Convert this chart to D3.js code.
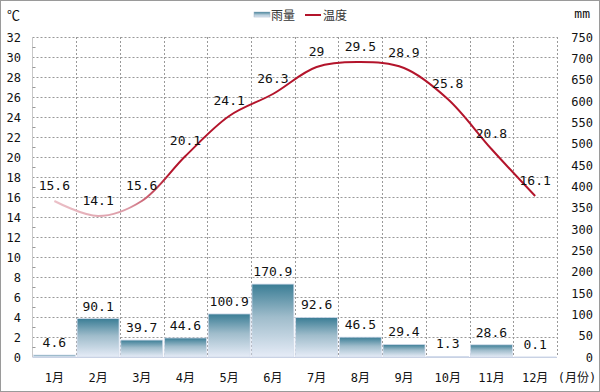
<!DOCTYPE html>
<html>
<head>
<meta charset="utf-8">
<title>雨量 温度</title>
<style>
body { margin: 0; background: #fff; }
text { font-family: "DejaVu Sans Mono", "Noto Sans CJK SC", monospace; fill: #111; }
.grid line { stroke: #999; stroke-dasharray: 2,2; stroke-width: 1; }
.lbl { font-size: 13px; text-anchor: middle; }
.tick-l { font-size: 12px; text-anchor: end; }
.tick-r { font-size: 12px; text-anchor: end; }
.legend text { font-family: "Noto Sans CJK SC", sans-serif; font-size: 12px; fill: #333; }
</style>
</head>
<body>
<svg id="chart" width="600" height="392"></svg>
<script src="https://cdn.jsdelivr.net/npm/d3@7"></script>
<script>
var months = ["1月","2月","3月","4月","5月","6月","7月","8月","9月","10月","11月","12月"];
var rain = [4.6, 90.1, 39.7, 44.6, 100.9, 170.9, 92.6, 46.5, 29.4, 1.3, 28.6, 0.1];
var temp = [15.6, 14.1, 15.6, 20.1, 24.1, 26.3, 29, 29.5, 28.9, 25.8, 20.8, 16.1];
var leftTicks = d3.range(0, 33, 2);
var rightTicks = d3.range(0, 751, 50);

var svg = d3.select("#chart");
var plotL = 32.5, plotR = 557, plotT = 37, plotB = 357;

var x = d3.scaleBand().domain(months).range([plotL, plotR]).paddingInner(0.04).paddingOuter(0.02);
var yT = d3.scaleLinear().domain([0, 32]).range([plotB, plotT]);
var yR = d3.scaleLinear().domain([0, 750]).range([plotB, plotT]);

var defs = svg.append("defs");
var bg = defs.append("linearGradient").attr("id", "barGrad")
  .attr("x1", 0).attr("y1", 0).attr("x2", 0).attr("y2", 1);
bg.append("stop").attr("offset", "0%").attr("stop-color", "#3a7d95");
bg.append("stop").attr("offset", "45%").attr("stop-color", "#9fbccb");
bg.append("stop").attr("offset", "100%").attr("stop-color", "#e6ecf7");

var lg = defs.append("linearGradient").attr("id", "lineGrad")
  .attr("gradientUnits", "userSpaceOnUse")
  .attr("x1", 50).attr("y1", 0).attr("x2", 170).attr("y2", 0);
lg.append("stop").attr("offset", "0%").attr("stop-color", "#ecc2c9");
lg.append("stop").attr("offset", "65%").attr("stop-color", "#dc9aa6");
lg.append("stop").attr("offset", "100%").attr("stop-color", "#b3142b");

// outer border
svg.append("rect").attr("x", 0.5).attr("y", 0.5).attr("width", 599).attr("height", 391)
  .attr("fill", "none").attr("stroke", "#9a9a9a");

// grid
var grid = svg.append("g").attr("class", "grid");
grid.selectAll(".h").data(leftTicks.filter(function (d) { return d > 0; })).enter().append("line")
  .attr("x1", plotL).attr("x2", plotR)
  .attr("y1", function (d) { return Math.round(yT(d)) + 0.5; })
  .attr("y2", function (d) { return Math.round(yT(d)) + 0.5; });
var bounds = months.slice(1).map(function (m) { return x(m) - x.step() * x.paddingInner() / 2; });
bounds.push(plotR);
grid.selectAll(".v").data(bounds).enter().append("line")
  .attr("x1", function (d) { return Math.round(d) + 0.5; })
  .attr("x2", function (d) { return Math.round(d) + 0.5; })
  .attr("y1", plotT).attr("y2", plotB);

// plot frame left/bottom
svg.append("line").attr("x1", plotL).attr("x2", plotL).attr("y1", plotT).attr("y2", plotB)
  .attr("stroke", "#c8c8c8");
svg.append("line").attr("x1", plotL).attr("x2", plotR).attr("y1", plotB + 0.5).attr("y2", plotB + 0.5)
  .attr("stroke", "#c4cbe0");

// minor ticks on left
svg.append("g").selectAll("line").data(d3.range(1, 32, 2)).enter().append("line")
  .attr("x1", plotL).attr("x2", plotL + 3)
  .attr("y1", function (d) { return Math.round(yT(d)) + 0.5; })
  .attr("y2", function (d) { return Math.round(yT(d)) + 0.5; })
  .attr("stroke", "#999");

// bars
svg.append("g").selectAll("rect").data(rain).enter().append("rect")
  .attr("x", function (d, i) { return x(months[i]); })
  .attr("width", x.bandwidth())
  .attr("y", function (d) { return yR(d); })
  .attr("height", function (d) { return plotB - yR(d); })
  .attr("fill", "url(#barGrad)")
  .attr("stroke", "#d3dcec").attr("stroke-width", 0.8);

svg.append("g").selectAll("text").data(rain).enter().append("text")
  .attr("class", "lbl")
  .attr("x", function (d, i) { return x(months[i]) + x.bandwidth() / 2; })
  .attr("y", function (d) { return yR(d) - 8; })
  .text(function (d) { return d; });

// temperature line
var line = d3.line()
  .x(function (d, i) { return x(months[i]) + x.bandwidth() / 2; })
  .y(function (d) { return yT(d); })
  .curve(d3.curveCatmullRom.alpha(0.5));
svg.append("path").datum(temp).attr("d", line)
  .attr("fill", "none").attr("stroke", "url(#lineGrad)").attr("stroke-width", 2);

svg.append("g").selectAll("text").data(temp).enter().append("text")
  .attr("class", "lbl")
  .attr("x", function (d, i) { return x(months[i]) + x.bandwidth() / 2; })
  .attr("y", function (d) { return yT(d) - 11; })
  .text(function (d) { return d; });

// left axis labels
svg.append("g").selectAll("text").data(leftTicks).enter().append("text")
  .attr("class", "tick-l").attr("x", 21)
  .attr("y", function (d) { return yT(d) + 4.5; })
  .text(function (d) { return d; });
svg.append("text").attr("x", 7).attr("y", 20).style("font-size", "13px")
  .style("font-family", "Noto Sans CJK SC").text("℃");

// right axis labels
svg.append("g").selectAll("text").data(rightTicks).enter().append("text")
  .attr("class", "tick-r").attr("x", 593)
  .attr("y", function (d) { return yR(d) + 4.5; })
  .text(function (d) { return d; });
svg.append("text").attr("x", 590).attr("y", 18).attr("text-anchor", "end")
  .style("font-size", "13px").text("mm");

// month labels
svg.append("g").selectAll("text").data(months).enter().append("text")
  .attr("class", "lbl").style("font-size", "12px")
  .attr("x", function (d) { return x(d) + x.bandwidth() / 2; })
  .attr("y", 382)
  .text(function (d) { return d; });
svg.append("text").attr("x", 577).attr("y", 382).attr("text-anchor", "middle")
  .style("font-size", "12px").text("(月份)");

// legend
var legend = svg.append("g").attr("class", "legend");
legend.append("rect").attr("x", 254).attr("y", 12).attr("width", 16).attr("height", 5)
  .attr("fill", "url(#barGrad)").attr("stroke", "#9bb0c4").attr("stroke-width", 0.5);
legend.append("text").attr("x", 271).attr("y", 20).text("雨量");
legend.append("line").attr("x1", 305).attr("x2", 321).attr("y1", 15).attr("y2", 15)
  .attr("stroke", "#b3142b").attr("stroke-width", 2);
legend.append("text").attr("x", 323).attr("y", 20).text("温度");
</script>
</body>
</html>
